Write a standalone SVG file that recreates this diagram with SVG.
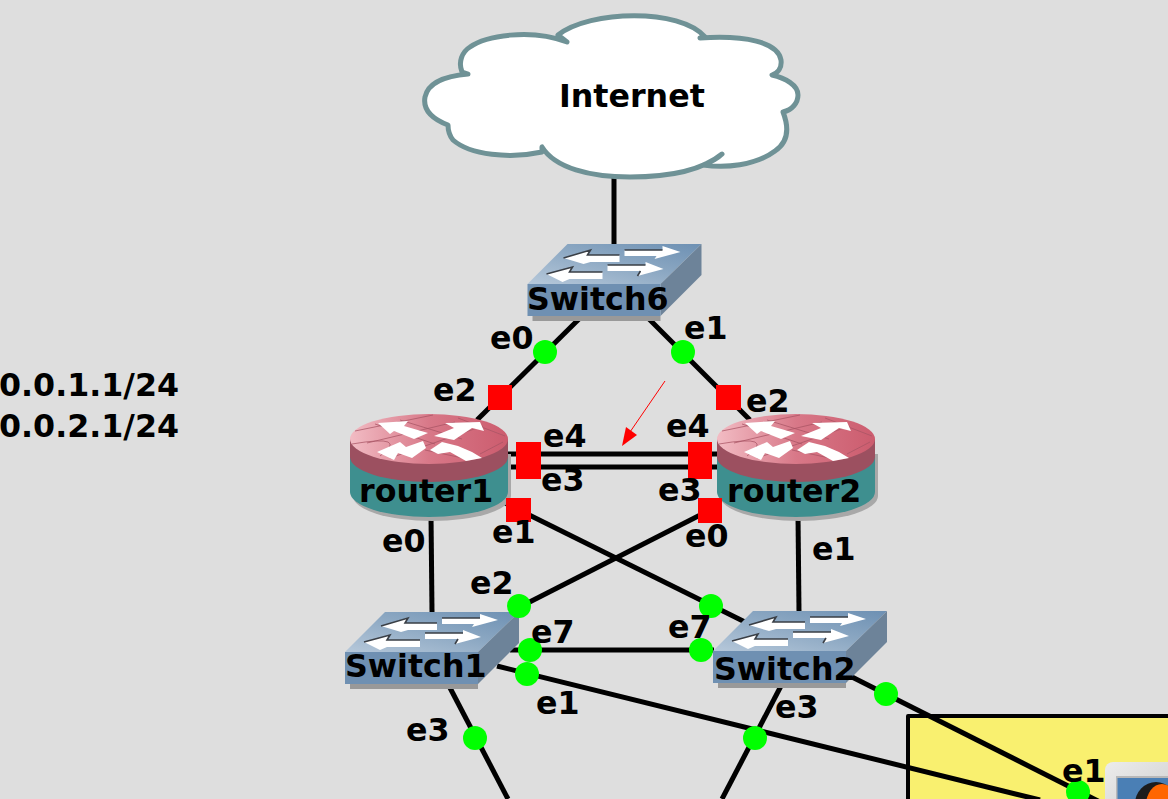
<svg xmlns="http://www.w3.org/2000/svg" width="1168" height="799" viewBox="0 0 1168 799">
<style>
text{font-family:"DejaVu Sans",sans-serif;font-weight:bold;font-size:31.7px;fill:#000}
.c{stroke:#000;stroke-width:5;fill:none}
.p{fill:#0f0}
.s{fill:#f00}
.d{fill:none;stroke:#3a3f46;stroke-width:1.6}
.g{fill:none;stroke:#a85464;stroke-width:1;opacity:.75}
</style>
<defs>
<linearGradient id="st" x1="0" y1="1" x2="1" y2="0"><stop offset="0" stop-color="#b6c8da"/><stop offset="0.55" stop-color="#8ba7c2"/><stop offset="1" stop-color="#6d90b3"/></linearGradient>
<linearGradient id="rt" x1="0" y1="0" x2="1" y2="0"><stop offset="0" stop-color="#f2bcc4"/><stop offset="0.5" stop-color="#d87888"/><stop offset="1" stop-color="#cc5c6e"/></linearGradient>
<linearGradient id="hb" x1="0" y1="0" x2="1" y2="1"><stop offset="0" stop-color="#ececec"/><stop offset="1" stop-color="#c8c8c8"/></linearGradient>
<g id="sw">
<path d="M5 72H133V77H5Z" fill="#999"/>
<path d="M40 0H174L133 40H0Z" fill="url(#st)"/>
<path d="M133 40L174 0V31L133 72Z" fill="#6d8399"/>
<rect x="0" y="40" width="133" height="32" fill="#6f90b2"/>
<path d="M36 14L63 6L60 11H92V18H63L56 20Z" fill="#fff"/>
<path d="M97 6H135V2L153 8L127 15L129 12H97Z" fill="#fff"/>
<path d="M19 30L45 23L42 28H75V35H42L35 38Z" fill="#fff"/>
<path d="M80 21H118V18L136 25L110 32L113 27H80Z" fill="#fff"/>
<path class="d" d="M36 14L63 6L60 11H92M97 6H135M19 30L45 23L42 28H75M80 21H118M110 32L113 27"/>
</g>
<g id="rtr">
<path d="M3 40V82A79 25 0 0 0 161 82V40Z" fill="#a8a8a8"/>
<path d="M0 27V78A79 25 0 0 0 158 78V27Z" fill="#3e8f8f"/>
<path d="M0 25V43A79 25 0 0 0 158 43V25Z" fill="#9c5060"/>
<ellipse cx="79" cy="25" rx="79" ry="25" fill="url(#rt)"/>
<path class="g" d="M5 17L83 1M17 29L105 8M40 44L133 12M50 6L112 25M25 10L85 30M75 36L122 46M2 30Q60 20 30 42M108 4L155 22M130 40L153 28"/>
<path d="M28 9L58 7L54 12L78 19L64 25L44 17L40 20Z" fill="#fff"/>
<path d="M84 22L104 14L95 9L130 8L134 17L122 14L104 26Z" fill="#fff"/>
<path d="M27 38L50 28L56 33L73 27L76 34L62 44L48 39L44 46Z" fill="#fff"/>
<path d="M80 36L92 28L108 32L122 38L132 44L116 47L100 38L88 40Z" fill="#fff"/>
</g>
</defs>
<rect width="1168" height="799" fill="#dedede"/>
<rect id="area" x="908" y="716" width="300" height="120" fill="#f9f06f" stroke="#000" stroke-width="4" stroke-linejoin="round"/>
<g id="connectors">
<path class="c" d="M614 178V244"/>
<path class="c" d="M580 318L477 420"/>
<path class="c" d="M648 318L750 420"/>
<path class="c" d="M508 454H718"/>
<path class="c" d="M508 467H718"/>
<path class="c" d="M497 499L745 622"/>
<path class="c" d="M710 510L510 612"/>
<path class="c" d="M431 515L432 612"/>
<path class="c" d="M798 515L799 612"/>
<path class="c" d="M510 650H714"/>
<path class="c" d="M497 666L1040 800"/>
<path class="c" d="M850 676L1100 802"/>
<path class="c" d="M448 684L508 799"/>
<path class="c" d="M782 684L722 799"/>
<path d="M665 381L630 432" stroke="#f00" stroke-width="1" fill="none"/>
<path d="M622 446L626 427L637 435Z" fill="#f00"/>
</g>
<g id="internet">
<path d="M558 35C590 10 680 8 705 37L700 38C745 35 778 42 781 60C782 68 778 73 772 75C785 78 798 85 798 95C798 103 792 110 783 112C790 130 787 143 775 151C755 166 725 168 703 165C711 162 718 158 722 154C700 172 665 177 630 177C590 177 555 168 542 147L542 152C510 159 470 155 453 140C449 135 448 130 448 125C430 118 423 108 425 97C428 83 445 76 468 74L462 72C458 62 462 52 470 47C485 36 530 28 567 42Z" fill="#fff" stroke="#6f9296" stroke-width="5" stroke-linejoin="round"/>
<text x="559" y="107">Internet</text>
</g>
<g id="switch6"><use href="#sw" transform="translate(527.5,244)"/><text x="527" y="310">Switch6</text></g>
<g id="router1"><use href="#rtr" transform="translate(350,414)"/><text x="359" y="502">router1</text></g>
<g id="router2"><use href="#rtr" transform="translate(717,414)"/><text x="727" y="502">router2</text></g>
<g id="switch1"><use href="#sw" transform="translate(345,612)"/><text x="345" y="677">Switch1</text></g>
<g id="switch2"><use href="#sw" transform="translate(713,611)"/><text x="714" y="680">Switch2</text></g>
<g id="host">
<rect x="1105" y="762" width="80" height="60" rx="8" fill="url(#hb)"/>
<rect x="1116" y="776" width="62" height="40" fill="#b8b8b8"/>
<rect x="1117.500" y="778" width="60" height="40" fill="#4a7fb5"/>
<ellipse cx="1156" cy="804" rx="21" ry="22" fill="#1c1c1c"/>
<ellipse cx="1162" cy="805" rx="16" ry="21" fill="#f60"/>
</g>
<g id="ports">
<circle class="p" cx="545" cy="352" r="12"/><circle class="p" cx="683" cy="352" r="12"/>
<rect class="s" x="488" y="385" width="24" height="25"/><rect class="s" x="716" y="385" width="25" height="25"/>
<rect class="s" x="516" y="442" width="25" height="37"/><rect class="s" x="688" y="442" width="24" height="37"/>
<rect class="s" x="506" y="498" width="25" height="24"/><rect class="s" x="698" y="498" width="24" height="25"/>
<circle class="p" cx="519" cy="606" r="12"/><circle class="p" cx="711" cy="606" r="12"/>
<circle class="p" cx="530" cy="650" r="12"/><circle class="p" cx="701" cy="650" r="12"/>
<circle class="p" cx="527" cy="674" r="12"/><circle class="p" cx="886" cy="694" r="12"/>
<circle class="p" cx="475" cy="738" r="12"/><circle class="p" cx="755" cy="738" r="12"/>
<circle class="p" cx="1078" cy="792" r="12"/>
</g>
<g id="labels">
<text x="490" y="349">e0</text><text x="684" y="339">e1</text>
<text x="433" y="401">e2</text><text x="746" y="412">e2</text>
<text x="543" y="447">e4</text><text x="666" y="437">e4</text>
<text x="541" y="491">e3</text><text x="658" y="501">e3</text>
<text x="492" y="543">e1</text><text x="685" y="547">e0</text>
<text x="382" y="552">e0</text><text x="812" y="560">e1</text>
<text x="470" y="594">e2</text><text x="531" y="643">e7</text><text x="668" y="638">e7</text>
<text x="536" y="714">e1</text><text x="406" y="741">e3</text><text x="775" y="718">e3</text>
<text x="1062" y="782">e1</text>
<text x="-1" y="396">0.0.1.1/24</text><text x="-1" y="437">0.0.2.1/24</text>
</g>
</svg>
